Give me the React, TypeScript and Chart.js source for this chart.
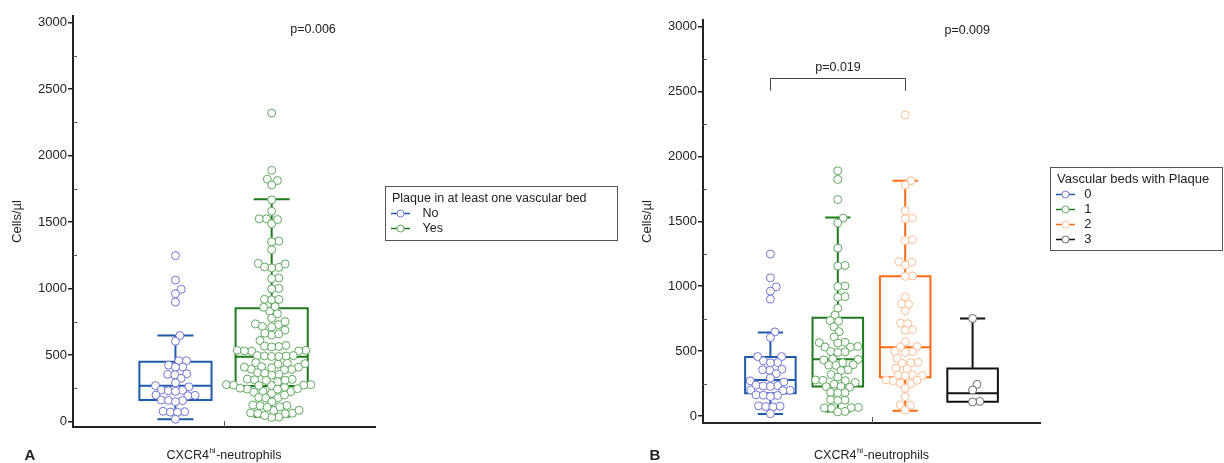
import React, { useEffect, useRef } from "react";
import { Chart, registerables } from "chart.js";

Chart.register(...registerables);

const FONT = "'Liberation Sans', Arial, Helvetica, sans-serif";

// ---------------- data (Cells/µl) ----------------
const group0Values = [1248, 1065, 995, 962, 900, 648, 605, 458, 458, 425, 412, 410, 360, 356, 352, 326, 293, 271, 262, 238, 235, 232, 228, 200, 198, 195, 163, 160, 158, 150, 78, 75, 72, 70, 18];
const group1Values = [1890, 1823, 1668, 1525, 1488, 1294, 1160, 1156, 1002, 998, 920, 916, 830, 778, 735, 730, 688, 650, 610, 568, 565, 562, 536, 532, 530, 497, 494, 490, 440, 436, 432, 410, 395, 392, 390, 356, 350, 320, 300, 278, 275, 272, 258, 245, 228, 226, 222, 182, 180, 178, 125, 122, 120, 66, 64, 62, 60, 35, 32];
const group2Values = [2320, 1813, 1780, 1582, 1525, 1520, 1358, 1352, 1190, 1186, 1163, 1080, 1076, 919, 865, 860, 811, 716, 712, 665, 660, 573, 536, 532, 497, 494, 490, 444, 413, 410, 406, 368, 364, 318, 315, 312, 310, 278, 275, 272, 252, 248, 213, 149, 86, 84, 46];
const group3Values = [752, 244, 200, 112, 108];

const categoriesA = ["No", "Yes"];
const categoriesB = ["0", "1", "2", "3"];

// box statistics
const boxAMin = [18, 38];
const boxAQ1 = [163, 268];
const boxAMedian = [271, 489];
const boxAQ3 = [451, 852];
const boxAMax = [647, 1672];

const boxBMin = [15, 34, 40, 110];
const boxBQ1 = [175, 227, 298, 110];
const boxBMedian = [277, 438, 530, 176];
const boxBQ3 = [455, 757, 1077, 367];
const boxBMax = [644, 1529, 1814, 752];

const yTickValues = [0, 500, 1000, 1500, 2000, 2500, 3000];
const yMinorTickValues = [250, 750, 1250, 1750, 2250, 2750];

const axisTitle = "Cells/µl";
const xLabelMain = "CXCR4";
const xLabelSup = "hi";
const xLabelRest = "-neutrophils";
const legendTitleA = "Plaque in at least one vascular bed";
const legendTitleB = "Vascular beds with Plaque";
const pValueA = "p=0.006";
const pValueB = "p=0.009";
const pValuePair = "p=0.019";

// ---------------- styling ----------------
const pointColors = ["#7272d8", "#5ea85e", "#ffbd92", "#6a6a6a"];
const boxColors = ["#1f5ba8", "#1d7a1d", "#ff6a12", "#111111"];
const AXIS = "#222222";

type Spec = {
  left: number;
  width: number;
  letter: string;
  categories: string[];
  values: number[][];
  positions: number[];
  pColors: string[];
  bColors: string[];
  box: { min: number[]; q1: number[]; med: number[]; q3: number[]; max: number[] };
  padding: { left: number; top: number; right: number; bottom: number };
  xAxisHeight: number;
  xMin: number;
  xMax: number;
  yMin: number;
  yMax: number;
  pLabel: { text: string; x: number; y: number };
  bracket?: { text: string; from: number; to: number; top: number; foot: number; textY: number };
  legend: { x: number; y: number; w: number; h: number; title: string; size: number; textDx: number };
  letterX: number;
};

const specA: Spec = {
  left: 0,
  width: 630,
  letter: "A",
  categories: categoriesA,
  values: [group0Values, [...group1Values, ...group2Values, ...group3Values]],
  positions: [1, 2],
  pColors: [pointColors[0], pointColors[1]],
  bColors: [boxColors[0], boxColors[1]],
  box: { min: boxAMin, q1: boxAQ1, med: boxAMedian, q3: boxAQ3, max: boxAMax },
  padding: { left: 0, top: 16, right: 255, bottom: 0 },
  xAxisHeight: 36,
  xMin: -0.065,
  xMax: 3.074,
  yMin: -40,
  yMax: 3050,
  pLabel: { text: pValueA, x: 2.43, y: 2945 },
  legend: { x: 385, y: 186, w: 232, h: 54, title: legendTitleA, size: 12.5, textDx: 37.5 },
  letterX: 30,
};

const specB: Spec = {
  left: 612,
  width: 612,
  letter: "B",
  categories: categoriesB,
  values: [group0Values, group1Values, group2Values, group3Values],
  positions: [1, 2, 3, 4],
  pColors: pointColors,
  bColors: boxColors,
  box: { min: boxBMin, q1: boxBQ1, med: boxBMedian, q3: boxBQ3, max: boxBMax },
  padding: { left: 18, top: 20, right: 184, bottom: 0 },
  xAxisHeight: 40,
  xMin: 0,
  xMax: 5,
  yMin: -54,
  yMax: 3052,
  pLabel: { text: pValueB, x: 3.92, y: 2974 },
  bracket: { text: pValuePair, from: 1, to: 3, top: 2602, foot: 2506, textY: 2683 },
  legend: { x: 438, y: 167, w: 172, h: 83, title: legendTitleB, size: 13, textDx: 34.3 },
  letterX: 43,
};

function makeDecor(spec: Spec) {
  return {
    id: "decor" + spec.letter,
    beforeDatasetsDraw(chart: any) {
      const ctx = chart.ctx;
      const xs = chart.scales.x;
      const ys = chart.scales.y;
      ctx.save();
      spec.positions.forEach((pos: number, i: number) => {
        const cx = xs.getPixelForValue(pos);
        const hw = xs.getPixelForValue(pos + 0.375) - cx;
        const cw = xs.getPixelForValue(pos + 0.1875) - cx;
        const yMin = ys.getPixelForValue(spec.box.min[i]);
        const yQ1 = ys.getPixelForValue(spec.box.q1[i]);
        const yMed = ys.getPixelForValue(spec.box.med[i]);
        const yQ3 = ys.getPixelForValue(spec.box.q3[i]);
        const yMax = ys.getPixelForValue(spec.box.max[i]);
        ctx.strokeStyle = spec.bColors[i];
        ctx.lineWidth = 2;
        ctx.beginPath();
        ctx.rect(cx - hw, yQ3, hw * 2, yQ1 - yQ3);
        ctx.moveTo(cx - hw, yMed);
        ctx.lineTo(cx + hw, yMed);
        ctx.moveTo(cx, yQ3);
        ctx.lineTo(cx, yMax);
        ctx.moveTo(cx - cw, yMax);
        ctx.lineTo(cx + cw, yMax);
        ctx.moveTo(cx, yQ1);
        ctx.lineTo(cx, yMin);
        ctx.moveTo(cx - cw, yMin);
        ctx.lineTo(cx + cw, yMin);
        ctx.stroke();
      });
      ctx.restore();
    },
    afterDraw(chart: any) {
      const ctx = chart.ctx;
      const xs = chart.scales.x;
      const ys = chart.scales.y;
      const area = chart.chartArea;
      ctx.save();
      // minor ticks (inside) on the y axis
      ctx.strokeStyle = "#555";
      ctx.lineWidth = 1;
      ctx.beginPath();
      yMinorTickValues.forEach((v) => {
        const y = Math.round(ys.getPixelForValue(v)) + 0.5;
        ctx.moveTo(area.left, y);
        ctx.lineTo(area.left + 4, y);
      });
      // category divider tick on the x axis
      const mid = (spec.positions[0] + spec.positions[spec.positions.length - 1]) / 2;
      const mx = Math.round(xs.getPixelForValue(mid)) + 0.5;
      ctx.moveTo(mx, area.bottom);
      ctx.lineTo(mx, area.bottom - 6);
      ctx.stroke();

      ctx.fillStyle = AXIS;
      ctx.textBaseline = "middle";
      // p value
      ctx.font = `12.5px ${FONT}`;
      ctx.textAlign = "center";
      ctx.fillText(spec.pLabel.text, xs.getPixelForValue(spec.pLabel.x), ys.getPixelForValue(spec.pLabel.y));
      if (spec.bracket) {
        const b = spec.bracket;
        const x1 = Math.round(xs.getPixelForValue(b.from)) + 0.5;
        const x2 = Math.round(xs.getPixelForValue(b.to)) + 0.5;
        const yt = Math.round(ys.getPixelForValue(b.top)) + 0.5;
        const yf = ys.getPixelForValue(b.foot);
        ctx.strokeStyle = "#444";
        ctx.lineWidth = 1;
        ctx.beginPath();
        ctx.moveTo(x1, yf);
        ctx.lineTo(x1, yt);
        ctx.lineTo(x2, yt);
        ctx.lineTo(x2, yf);
        ctx.stroke();
        ctx.fillText(b.text, (x1 + x2) / 2, ys.getPixelForValue(b.textY));
      }

      // legend
      const L = spec.legend;
      ctx.strokeStyle = "#555";
      ctx.lineWidth = 1;
      ctx.strokeRect(L.x + 0.5, L.y + 0.5, L.w, L.h);
      ctx.font = `${L.size}px ${FONT}`;
      ctx.textAlign = "left";
      ctx.fillStyle = AXIS;
      ctx.fillText(L.title, L.x + 7, L.y + 12.5);
      spec.categories.forEach((c: string, i: number) => {
        const yy = L.y + 27.5 + i * 15;
        ctx.strokeStyle = spec.bColors[i];
        ctx.lineWidth = 1.5;
        ctx.beginPath();
        ctx.moveTo(L.x + 6, yy);
        ctx.lineTo(L.x + 25, yy);
        ctx.stroke();
        ctx.beginPath();
        ctx.arc(L.x + 15.5, yy, 3.5, 0, Math.PI * 2);
        ctx.fillStyle = "#fff";
        ctx.fill();
        ctx.strokeStyle = spec.pColors[i];
        ctx.lineWidth = 1;
        ctx.stroke();
        ctx.fillStyle = AXIS;
        ctx.fillText(c, L.x + L.textDx, yy);
      });

      // bottom labels
      const by = 456;
      ctx.font = `bold 15px ${FONT}`;
      ctx.textAlign = "center";
      ctx.fillText(spec.letter, spec.letterX, by);
      const mainFont = `12.5px ${FONT}`;
      const supFont = `8px ${FONT}`;
      ctx.font = mainFont;
      const w1 = ctx.measureText(xLabelMain).width;
      const w3 = ctx.measureText(xLabelRest).width;
      ctx.font = supFont;
      const w2 = ctx.measureText(xLabelSup).width + 1;
      const total = w1 + w2 + w3;
      let tx = (area.left + area.right) / 2 - total / 2;
      ctx.textAlign = "left";
      ctx.font = mainFont;
      ctx.fillText(xLabelMain, tx, by);
      tx += w1;
      ctx.font = supFont;
      ctx.fillText(xLabelSup, tx + 0.5, by - 5);
      tx += w2;
      ctx.font = mainFont;
      ctx.fillText(xLabelRest, tx, by);
      ctx.restore();
    },
  };
}

// deterministic beeswarm packing of the points around each category position
function layoutSwarm(chart: any, spec: Spec) {
  const xs = chart.scales.x;
  const ys = chart.scales.y;
  const D = 7.2;
  chart.data.datasets.forEach((ds: any, i: number) => {
    const vals = spec.values[i];
    const cx = xs.getPixelForValue(spec.positions[i]);
    const order = vals.map((_, k) => k).sort((a, b) => vals[a] - vals[b]);
    const placed: { x: number; y: number }[] = [];
    const data: { x: number; y: number }[] = new Array(vals.length);
    for (const k of order) {
      const py = ys.getPixelForValue(vals[k]);
      const blocks: [number, number][] = [];
      for (const p of placed) {
        const dy = Math.abs(p.y - py);
        if (dy < D) {
          const dx = Math.sqrt(D * D - dy * dy);
          blocks.push([p.x - dx, p.x + dx]);
        }
      }
      const cands = [0];
      blocks.forEach(([a, b]) => cands.push(a, b));
      cands.sort((a, b) => Math.abs(a) - Math.abs(b) || b - a);
      let off = 0;
      for (const c of cands) {
        if (blocks.every(([a, b]) => c <= a + 1e-6 || c >= b - 1e-6)) {
          off = c;
          break;
        }
      }
      placed.push({ x: off, y: py });
      data[k] = { x: xs.getValueForPixel(cx + off), y: vals[k] };
    }
    ds.data = data;
  });
  chart.update("none");
}

function Panel({ spec }: { spec: Spec }) {
  const ref = useRef<HTMLCanvasElement>(null);
  useEffect(() => {
    if (!ref.current) return;
    const chart = new Chart(ref.current, {
      type: "scatter",
      data: {
        datasets: spec.values.map((vals, i) => ({
          label: spec.categories[i],
          data: vals.map((v) => ({ x: spec.positions[i], y: v })),
          pointRadius: 4,
          pointHoverRadius: 4,
          pointBorderWidth: 1,
          pointBackgroundColor: "#ffffff",
          pointBorderColor: spec.pColors[i],
          showLine: false,
        })),
      },
      options: {
        responsive: false,
        animation: false,
        devicePixelRatio: 1,
        events: [],
        layout: { padding: spec.padding },
        plugins: { legend: { display: false }, tooltip: { enabled: false } },
        scales: {
          x: {
            type: "linear",
            min: spec.xMin,
            max: spec.xMax,
            afterFit: (s: any) => {
              s.height = spec.xAxisHeight;
            },
            ticks: { display: false },
            grid: { display: false },
            border: { display: true, color: AXIS, width: 2 },
          },
          y: {
            type: "linear",
            min: spec.yMin,
            max: spec.yMax,
            afterFit: (s: any) => {
              s.width = 73;
            },
            afterBuildTicks: (s: any) => {
              s.ticks = yTickValues.map((v) => ({ value: v }));
            },
            ticks: {
              callback: (v: any) => String(v),
              font: { family: FONT, size: 13 },
              color: AXIS,
              padding: 1,
            },
            grid: {
              display: true,
              drawOnChartArea: false,
              drawTicks: true,
              tickLength: 5,
              color: AXIS,
              lineWidth: 1.5,
            },
            border: { display: true, color: AXIS, width: 2 },
            title: {
              display: true,
              text: axisTitle,
              font: { family: FONT, size: 13 },
              color: AXIS,
              padding: { top: 10, bottom: 0 },
            },
          },
        },
      } as any,
      plugins: [makeDecor(spec)],
    });
    layoutSwarm(chart, spec);
    return () => chart.destroy();
  }, [spec]);
  return (
    <canvas
      ref={ref}
      width={spec.width}
      height={463}
      style={{ position: "absolute", left: spec.left, top: 0, width: spec.width, height: 463 }}
    />
  );
}

export default function App() {
  return (
    <div style={{ position: "absolute", left: 0, top: 0, width: 1224, height: 463, background: "#fff", overflow: "hidden" }}>
      <Panel spec={specA} />
      <Panel spec={specB} />
    </div>
  );
}
